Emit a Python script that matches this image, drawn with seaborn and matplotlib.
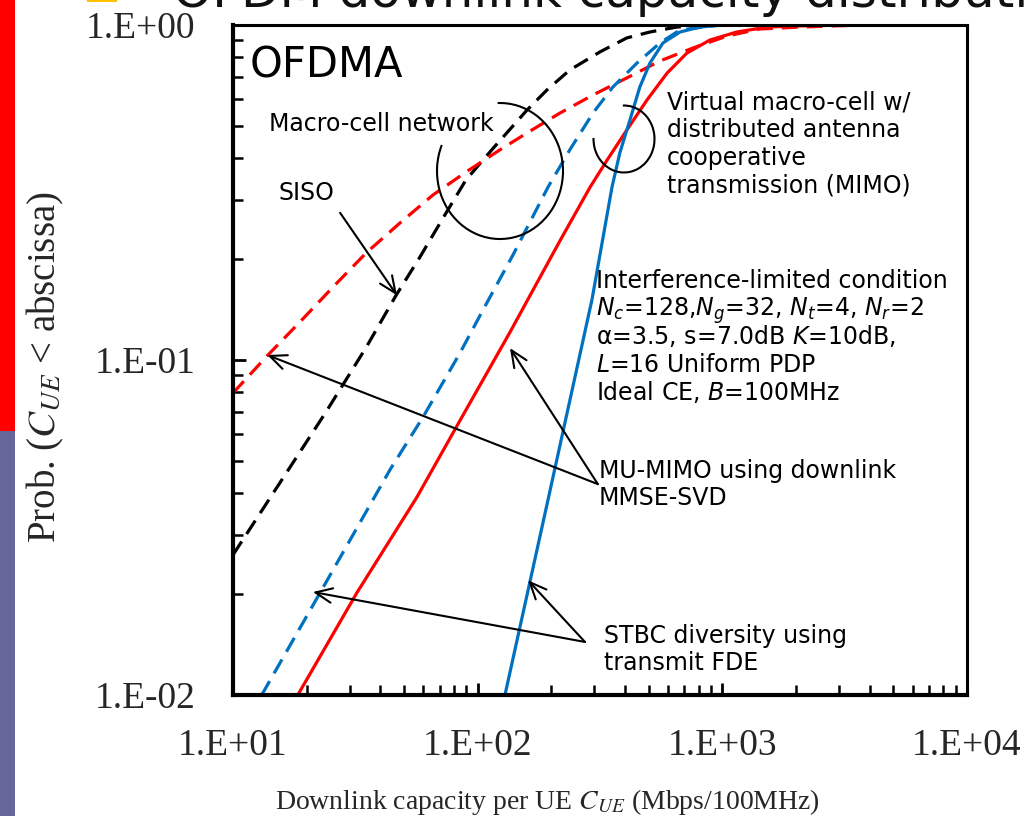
import numpy as np
import matplotlib
matplotlib.use("Agg")
import matplotlib.pyplot as plt
import seaborn as sns
from matplotlib.patches import Arc, Rectangle
from matplotlib.ticker import FixedLocator, FuncFormatter, LogLocator, NullFormatter

# ---------------- data ----------------
siso_macro_x = [10, 24.0, 35.0, 46.4, 58.1, 72.1, 89.6, 115.5, 159, 192, 238, 316, 407, 506, 652,
                891, 10000]
siso_macro_y = [0.0262, 0.070, 0.109, 0.156, 0.203, 0.265, 0.345, 0.428, 0.557, 0.640, 0.734,
                0.831, 0.915, 0.953, 0.986, 1.0, 1.0]

mumimo_macro_x = [10, 13.9, 18.8, 25.6, 35.0, 48.1, 65.7, 89.6, 123.3, 159, 217, 296, 407, 556,
                  759, 1045, 1424, 2075, 3300, 10000]
mumimo_macro_y = [0.0797, 0.1035, 0.130, 0.165, 0.2087, 0.2564, 0.311, 0.364, 0.424, 0.476,
                  0.546, 0.618, 0.695, 0.781, 0.854, 0.927, 0.973, 0.986, 0.997, 1.0]

stbc_macro_x = [13.1, 22.7, 43.8, 59.8, 84.7, 105.1, 139.5, 193.8, 238, 296, 357, 448, 556, 671,
                970, 10000]
stbc_macro_y = [0.01, 0.0202, 0.047, 0.0676, 0.105, 0.141, 0.206, 0.328, 0.424, 0.546, 0.653,
                0.770, 0.884, 0.966, 1.0, 1.0]

mumimo_virtual_x = [18.4, 32.1, 56.5, 84.7, 135.5, 217, 288, 338, 407, 492, 595, 717, 890, 1147,
                    1522, 2500, 10000]
mumimo_virtual_y = [0.01, 0.0202, 0.039, 0.066, 0.121, 0.227, 0.328, 0.395, 0.486, 0.597, 0.719,
                    0.825, 0.902, 0.953, 0.986, 0.998, 1.0]

stbc_virtual_x = [129.3, 193.8, 293, 354, 381, 419, 460, 506, 572, 671, 810, 1000, 10000]
stbc_virtual_y = [0.01, 0.0382, 0.151, 0.328, 0.415, 0.520, 0.653, 0.770, 0.884, 0.953, 0.986,
                  1.0, 1.0]

x_ticks = [10, 100, 1000, 10000]
y_ticks = [0.01, 0.1, 1.0]

RED = "#FF0000"
BLUE = "#0070C0"
BLACK = "#000000"

# ---------------- figure ----------------
W, H = 1032, 816
sns.set_style("ticks")
plt.rcParams["font.family"] = ["Liberation Serif", "DejaVu Serif"]
plt.rcParams["axes.unicode_minus"] = False

fig = plt.figure(figsize=(W / 100, H / 100), dpi=100, facecolor="white")
ax = fig.add_axes([233 / W, 1 - 695 / H, (967 - 233) / W, (695 - 25) / H])
ax.set_facecolor("white")
ax.set_xscale("log")
ax.set_yscale("log")

series = [
    (siso_macro_x, siso_macro_y, BLACK, True),
    (mumimo_macro_x, mumimo_macro_y, RED, True),
    (stbc_macro_x, stbc_macro_y, BLUE, True),
    (mumimo_virtual_x, mumimo_virtual_y, RED, False),
    (stbc_virtual_x, stbc_virtual_y, BLUE, False),
]
for xs, ys, col, dashed in series:
    sns.lineplot(x=xs, y=ys, color=col, lw=2.3, ax=ax, sort=False,
                 estimator=None, legend=False)
    if dashed:
        ax.lines[-1].set_dashes((5.0, 2.8))

ax.set_xlim(10, 1e4)
ax.set_ylim(1e-2, 1)

fmt = FuncFormatter(lambda v, p: f"1.E{int(round(np.log10(v))):+03d}")
ax.xaxis.set_major_locator(FixedLocator(x_ticks))
ax.yaxis.set_major_locator(FixedLocator(y_ticks))
ax.xaxis.set_major_formatter(fmt)
ax.yaxis.set_major_formatter(fmt)
ax.xaxis.set_minor_locator(LogLocator(base=10, subs=np.arange(2, 10)))
ax.yaxis.set_minor_locator(LogLocator(base=10, subs=np.arange(2, 10)))
ax.xaxis.set_minor_formatter(NullFormatter())
ax.yaxis.set_minor_formatter(NullFormatter())
ax.tick_params(which="both", direction="in", top=False, right=False, color="black")
ax.tick_params(which="major", length=9, width=2, labelsize=27)
ax.tick_params(axis="x", which="major", pad=24)
ax.tick_params(axis="y", which="major", pad=27)
ax.tick_params(which="minor", length=7, width=1.8)

for side, lw in (("left", 3), ("bottom", 3), ("top", 2.2), ("right", 2.2)):
    ax.spines[side].set_visible(True)
    ax.spines[side].set_linewidth(lw)
    ax.spines[side].set_color("black")

ax.set_xlabel(r"Downlink capacity per UE $C_{UE}$ (Mbps/100MHz)", fontsize=20,
              math_fontfamily="stix")
ax.set_ylabel(r"Prob. ($C_{UE}$ < abscissa)", fontsize=28, math_fontfamily="stix")
ax.xaxis.set_label_coords(0.429, -0.137)
ax.yaxis.set_label_coords(-0.228, 0.49)

# ---------------- slide decorations ----------------
fig.add_artist(Rectangle((0, 1 - 431 / H), 15 / W, 431 / H, transform=fig.transFigure,
                         color="#FF0000", lw=0))
fig.add_artist(Rectangle((0, 0), 15 / W, (H - 431) / H, transform=fig.transFigure,
                         color="#666699", lw=0))
fig.add_artist(Rectangle((87 / W, 1 - 2 / H), 30 / W, 2 / H, transform=fig.transFigure,
                         color="#FFC000", lw=0))
fig.text(173 / W, 1 - 7 / H, "OFDM downlink capacity distribution", fontsize=36,
         family="DejaVu Sans", va="baseline", ha="left", color="#111111")


# ---------------- annotations ----------------
def ptext(px, py, s, size=17):
    fig.text(px / W, 1 - py / H, s, va="baseline", ha="left", family="DejaVu Sans",
             math_fontfamily="dejavusans", fontsize=size, color="black")


ptext(250, 77, "OFDMA", size=30)
ptext(269, 131, "Macro-cell network")
ptext(279, 200, "SISO")
for i, line in enumerate(["Virtual macro-cell w/", "distributed antenna",
                          "cooperative", "transmission (MIMO)"]):
    ptext(667, 109 + 28 * i, line)
cond_lines = ["Interference-limited condition",
              r"$N_c$=128,$N_g$=32, $N_t$=4, $N_r$=2",
              r"α=3.5, s=7.0dB $K$=10dB,",
              r"$L$=16 Uniform PDP",
              r"Ideal CE, $B$=100MHz"]
for i, line in enumerate(cond_lines):
    ptext(596, 288 + 28 * i, line)
ptext(599, 478, "MU-MIMO using downlink")
ptext(599, 505, "MMSE-SVD")
ptext(604, 643, "STBC diversity using")
ptext(604, 670, "transmit FDE")

arrow_kw = dict(arrowstyle="->,head_length=0.8,head_width=0.35", lw=1.5,
                color="black", shrinkA=0, shrinkB=0, mutation_scale=15)
arrows = [
    ((27.4, 0.275), (46.8, 0.156)),     # SISO
    ((310, 0.0426), (13.8, 0.1035)),    # MU-MIMO -> macro
    ((310, 0.0426), (135.5, 0.1086)),   # MU-MIMO -> virtual
    ((274.5, 0.0144), (21.2, 0.0203)),  # STBC -> macro
    ((274.5, 0.0144), (160.6, 0.0220)), # STBC -> virtual
]
for tail, tip in arrows:
    ax.annotate("", xy=tip, xytext=tail, xycoords="data", textcoords="data",
                arrowprops=arrow_kw, annotation_clip=False)

# grouping circles (pixel-placed)
fig.add_artist(Arc((500 / 100, (H - 171) / 100), 1.26, 1.36, theta1=156, theta2=452,
                   transform=fig.dpi_scale_trans, lw=1.5, color="black"))
fig.add_artist(Arc((624 / 100, (H - 139) / 100), 0.61, 0.67, theta1=178, theta2=452,
                   transform=fig.dpi_scale_trans, lw=1.5, color="black"))

fig.savefig("out.png", dpi=100, facecolor="white")
